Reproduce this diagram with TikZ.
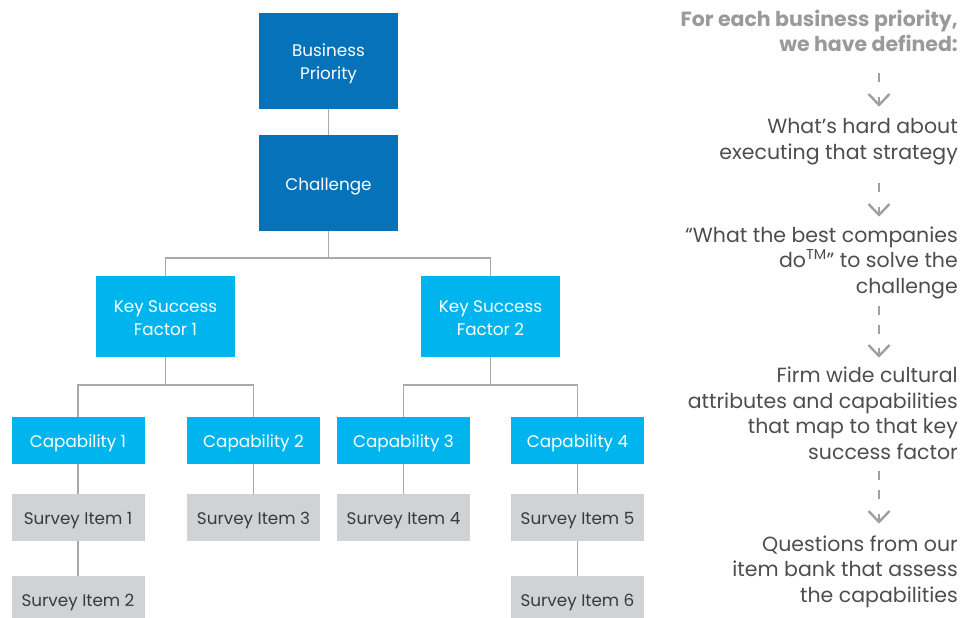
\documentclass[tikz,border=0pt]{standalone}
\usepackage{fontspec}
\setmainfont{Poppins}
\definecolor{cDark}{HTML}{0572B9}
\definecolor{cLight}{HTML}{00B5EE}
\definecolor{cGrayBox}{HTML}{D1D2D4}
\definecolor{cLine}{HTML}{A7A9AC}
\definecolor{cBoxText}{HTML}{3A3A3C}
\definecolor{cBody}{HTML}{4D4D4F}
\definecolor{cHead}{HTML}{9A9A9C}
\definecolor{cArrow}{HTML}{A0A0A2}
\newcommand\boxlabel[1]{\raisebox{-2.6pt}[\height][\depth]{\begin{tabular}{@{}c@{}}#1\end{tabular}}}
\tikzset{
  box/.style={inner sep=0pt, outer sep=0pt, draw=none,
    font=\fontsize{16.8}{23}\selectfont},
  darkbox/.style={box, fill=cDark, text=white, minimum width=139pt, minimum height=96pt},
  ksfbox/.style={box, fill=cLight, text=white, minimum width=139pt, minimum height=81pt},
  capbox/.style={box, fill=cLight, text=white, minimum width=133pt, minimum height=47pt},
  itembox/.style={box, fill=cGrayBox, text=cBoxText, minimum width=133pt, minimum height=47pt},
  conn/.style={draw=cLine, line width=1.8pt},
  bodytext/.style={inner sep=0pt, anchor=base east, align=right, text=cBody,
    font=\fontsize{20.5}{25.5}\selectfont},
  headtext/.style={inner sep=0pt, anchor=base east, align=right, text=cHead,
    font=\bfseries\fontsize{20.5}{25}\selectfont},
  dashline/.style={draw=cArrow, line width=2.4pt, dash pattern=on 9pt off 10pt},
  chev/.style={draw=cArrow, line width=2.4pt, line join=miter},
}
\begin{document}
\begin{tikzpicture}[x=1pt,y=-1pt]
\useasboundingbox (0,0) rectangle (975,618);
% tree nodes
\node[darkbox] (bp) at (328.5,61) {\boxlabel{Business\\Priority}};
\node[darkbox] (ch) at (328.5,183) {\boxlabel{Challenge}};
\node[ksfbox] (k1) at (165.5,316.5) {\boxlabel{Key Success\\Factor 1}};
\node[ksfbox] (k2) at (490.5,316.5) {\boxlabel{Key Success\\Factor 2}};
\node[capbox] (c1) at (78,440.5) {\boxlabel{Capability 1}};
\node[capbox] (c2) at (253.5,440.5) {\boxlabel{Capability 2}};
\node[capbox] (c3) at (403.5,440.5) {\boxlabel{Capability 3}};
\node[capbox] (c4) at (577.5,440.5) {\boxlabel{Capability 4}};
\node[itembox] (s1) at (78,517.5) {\boxlabel{Survey Item 1}};
\node[itembox] (s2) at (78,599.5) {\boxlabel{Survey Item 2}};
\node[itembox] (s3) at (253.5,517.5) {\boxlabel{Survey Item 3}};
\node[itembox] (s4) at (403.5,517.5) {\boxlabel{Survey Item 4}};
\node[itembox] (s5) at (577.5,517.5) {\boxlabel{Survey Item 5}};
\node[itembox] (s6) at (577.5,599.5) {\boxlabel{Survey Item 6}};
% connectors
\draw[conn] (bp.south) -- (ch.north);
\draw[conn] (ch.south) -- ++(0,27) -| (k1.north);
\draw[conn] (ch.south) -- ++(0,27) -| (k2.north);
\draw[conn] (k1.south) -- ++(0,28) -| (c1.north);
\draw[conn] (k1.south) -- ++(0,28) -| (c2.north);
\draw[conn] (k2.south) -- ++(0,28) -| (c3.north);
\draw[conn] (k2.south) -- ++(0,28) -| (c4.north);
\draw[conn] (c1.south) -- (s1.north);
\draw[conn] (s1.south) -- (s2.north);
\draw[conn] (c2.south) -- (s3.north);
\draw[conn] (c3.south) -- (s4.north);
\draw[conn] (c4.south) -- (s5.north);
\draw[conn] (s5.south) -- (s6.north);
% right column (anchor: baseline of the last line)
\node[headtext] (t0) at (958,52) {For each business priority,\\we have defined:};
\node[bodytext] (t1) at (958,159) {What’s hard about\\executing that strategy};
\node[bodytext] (t2) at (958,293) {“What the best companies\\do\textsuperscript{TM}” to solve the\\challenge};
\node[bodytext] (t3) at (958,459) {Firm wide cultural\\attributes and capabilities\\that map to that key\\success factor};
\node[bodytext] (t4) at (958,602) {Questions from our\\item bank that assess\\the capabilities};
% dashed arrows: start of dashes, end of dashes, tip of chevron
\coordinate (a0s) at (879,73);  \coordinate (a0m) at (879,82);  \coordinate (a0e) at (879,105);
\coordinate (a1s) at (879,183); \coordinate (a1m) at (879,192); \coordinate (a1e) at (879,215);
\coordinate (a2s) at (879,306); \coordinate (a2m) at (879,334); \coordinate (a2e) at (879,356);
\coordinate (a3s) at (879,471); \coordinate (a3m) at (879,499); \coordinate (a3e) at (879,522);
\foreach \a in {a0,a1,a2,a3}{
  \draw[dashline] (\a s) -- (\a m);
  \draw[chev] ([shift={(-10.5,-11)}]\a e) -- (\a e) -- ([shift={(10.5,-11)}]\a e);
  \draw[chev] (\a e) -- ([shift={(0,-8)}]\a e);
}
\end{tikzpicture}
\end{document}
